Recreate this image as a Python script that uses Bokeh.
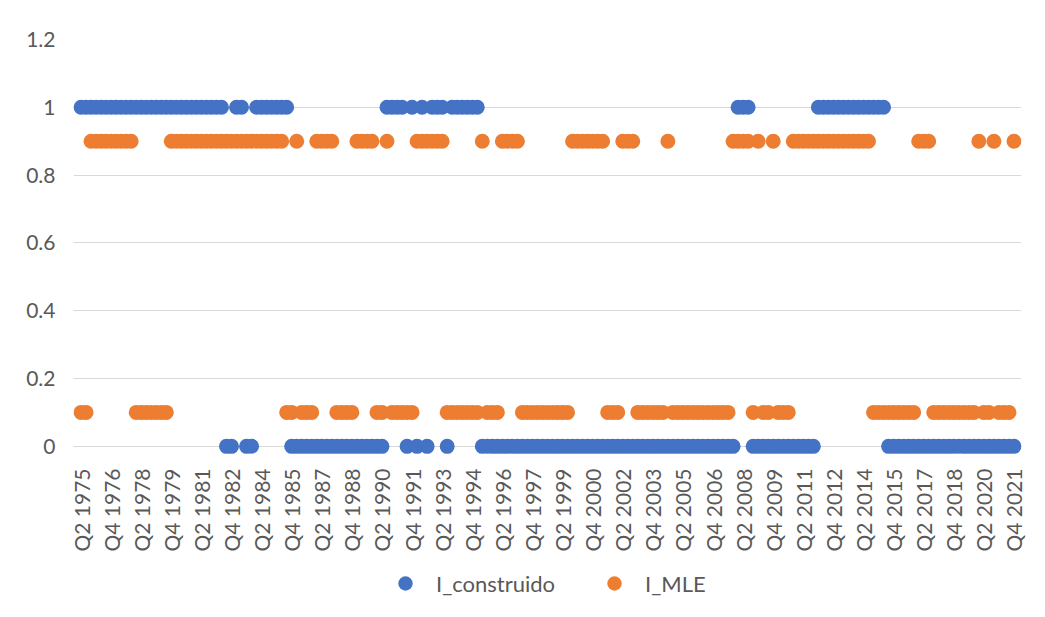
from math import pi
from bokeh.plotting import figure
from bokeh.layouts import column
from bokeh.models import (ColumnDataSource, Range1d, FixedTicker, NumeralTickFormatter,
                          Legend, LegendItem)
from bokeh.embed import file_html
from bokeh.resources import INLINE

# Tick labels (every 6th quarter, Q2 1975 ... Q4 2021)
tick_labels = ["Q2 1975", "Q4 1976", "Q2 1978", "Q4 1979", "Q2 1981", "Q4 1982",
               "Q2 1984", "Q4 1985", "Q2 1987", "Q4 1988", "Q2 1990", "Q4 1991",
               "Q2 1993", "Q4 1994", "Q2 1996", "Q4 1997", "Q2 1999", "Q4 2000",
               "Q2 2002", "Q4 2003", "Q2 2005", "Q4 2006", "Q2 2008", "Q4 2009",
               "Q2 2011", "Q4 2012", "Q2 2014", "Q4 2015", "Q2 2017", "Q4 2018",
               "Q2 2020", "Q4 2021"]

# I_construido, one value per quarter from Q2 1975 to Q4 2021
i_construido = [
    1, 1, 1,        # 1975 Q2-Q4
    1, 1, 1, 1,     # 1976
    1, 1, 1, 1,     # 1977
    1, 1, 1, 1,     # 1978
    1, 1, 1, 1,     # 1979
    1, 1, 1, 1,     # 1980
    1, 1, 1, 1,     # 1981
    1, 1, 0, 0,     # 1982
    1, 1, 0, 0,     # 1983
    1, 1, 1, 1,     # 1984
    1, 1, 1, 0,     # 1985
    0, 0, 0, 0,     # 1986
    0, 0, 0, 0,     # 1987
    0, 0, 0, 0,     # 1988
    0, 0, 0, 0,     # 1989
    0, 0, 1, 1,     # 1990
    1, 1, 0, 1,     # 1991
    0, 1, 0, 1,     # 1992
    1, 1, 0, 1,     # 1993
    1, 1, 1, 1,     # 1994
    1, 0, 0, 0,     # 1995
    0, 0, 0, 0,     # 1996
    0, 0, 0, 0,     # 1997
    0, 0, 0, 0,     # 1998
    0, 0, 0, 0,     # 1999
    0, 0, 0, 0,     # 2000
    0, 0, 0, 0,     # 2001
    0, 0, 0, 0,     # 2002
    0, 0, 0, 0,     # 2003
    0, 0, 0, 0,     # 2004
    0, 0, 0, 0,     # 2005
    0, 0, 0, 0,     # 2006
    0, 0, 0, 0,     # 2007
    1, 1, 1, 0,     # 2008
    0, 0, 0, 0,     # 2009
    0, 0, 0, 0,     # 2010
    0, 0, 0, 0,     # 2011
    1, 1, 1, 1,     # 2012
    1, 1, 1, 1,     # 2013
    1, 1, 1, 1,     # 2014
    1, 1, 0, 0,     # 2015
    0, 0, 0, 0,     # 2016
    0, 0, 0, 0,     # 2017
    0, 0, 0, 0,     # 2018
    0, 0, 0, 0,     # 2019
    0, 0, 0, 0,     # 2020
    0, 0, 0, 0,     # 2021
]

# I_MLE, one value per quarter from Q2 1975 to Q4 2021
i_mle = [
    0.1, 0.1, 0.9,          # 1975 Q2-Q4
    0.9, 0.9, 0.9, 0.9,     # 1976
    0.9, 0.9, 0.9, 0.9,     # 1977
    0.1, 0.1, 0.1, 0.1,     # 1978
    0.1, 0.1, 0.1, 0.9,     # 1979
    0.9, 0.9, 0.9, 0.9,     # 1980
    0.9, 0.9, 0.9, 0.9,     # 1981
    0.9, 0.9, 0.9, 0.9,     # 1982
    0.9, 0.9, 0.9, 0.9,     # 1983
    0.9, 0.9, 0.9, 0.9,     # 1984
    0.9, 0.9, 0.1, 0.1,     # 1985
    0.9, 0.1, 0.1, 0.1,     # 1986
    0.9, 0.9, 0.9, 0.9,     # 1987
    0.1, 0.1, 0.1, 0.1,     # 1988
    0.9, 0.9, 0.9, 0.9,     # 1989
    0.1, 0.1, 0.9, 0.1,     # 1990
    0.1, 0.1, 0.1, 0.1,     # 1991
    0.9, 0.9, 0.9, 0.9,     # 1992
    0.9, 0.9, 0.1, 0.1,     # 1993
    0.1, 0.1, 0.1, 0.1,     # 1994
    0.1, 0.9, 0.1, 0.1,     # 1995
    0.1, 0.9, 0.9, 0.9,     # 1996
    0.9, 0.1, 0.1, 0.1,     # 1997
    0.1, 0.1, 0.1, 0.1,     # 1998
    0.1, 0.1, 0.1, 0.9,     # 1999
    0.9, 0.9, 0.9, 0.9,     # 2000
    0.9, 0.9, 0.1, 0.1,     # 2001
    0.1, 0.9, 0.9, 0.9,     # 2002
    0.1, 0.1, 0.1, 0.1,     # 2003
    0.1, 0.1, 0.9, 0.1,     # 2004
    0.1, 0.1, 0.1, 0.1,     # 2005
    0.1, 0.1, 0.1, 0.1,     # 2006
    0.1, 0.1, 0.1, 0.9,     # 2007
    0.9, 0.9, 0.9, 0.1,     # 2008
    0.9, 0.1, 0.1, 0.9,     # 2009
    0.1, 0.1, 0.1, 0.9,     # 2010
    0.9, 0.9, 0.9, 0.9,     # 2011
    0.9, 0.9, 0.9, 0.9,     # 2012
    0.9, 0.9, 0.9, 0.9,     # 2013
    0.9, 0.9, 0.9, 0.1,     # 2014
    0.1, 0.1, 0.1, 0.1,     # 2015
    0.1, 0.1, 0.1, 0.1,     # 2016
    0.9, 0.9, 0.9, 0.1,     # 2017
    0.1, 0.1, 0.1, 0.1,     # 2018
    0.1, 0.1, 0.1, 0.1,     # 2019
    0.9, 0.1, 0.1, 0.9,     # 2020
    0.1, 0.1, 0.1, 0.9,     # 2021
]

series_names = ["I_construido", "I_MLE"]
series_cols = ["c", "m"]
series_colors = ["#4472C4", "#ED7D31"]
y_ticks = [0, 0.2, 0.4, 0.6, 0.8, 1.0, 1.2]

n = len(i_construido)
src = ColumnDataSource(dict(x=list(range(n)), c=i_construido, m=i_mle))

FONT = "Lato"
TXT = "#595959"
W = 1029

p = figure(width=W, height=558, output_backend="svg", toolbar_location=None,
           x_range=Range1d(-1.5, n + 0.5), y_range=Range1d(-0.03, 1.2),
           min_border_left=73, min_border_right=8, min_border_top=39,
           min_border_bottom=102)
p.outline_line_color = None

# axes
xa = p.xaxis[0]
xa.ticker = FixedTicker(ticks=list(range(0, n, 6)))
xa.major_label_overrides = {i * 6: lab for i, lab in enumerate(tick_labels)}
xa.major_label_orientation = pi / 2
xa.axis_line_color = None
xa.major_tick_line_color = None
xa.minor_tick_line_color = None
xa.major_label_standoff = 6
xa.major_label_text_font = FONT
xa.major_label_text_font_size = "21px"
xa.major_label_text_color = TXT

ya = p.yaxis[0]
ya.ticker = FixedTicker(ticks=y_ticks)
ya.formatter = NumeralTickFormatter(format="0.[0]")
ya.axis_line_color = None
ya.major_tick_line_color = None
ya.minor_tick_line_color = None
ya.major_label_standoff = 12
ya.major_label_text_font = FONT
ya.major_label_text_font_size = "21px"
ya.major_label_text_color = TXT

p.xgrid.visible = False
p.ygrid.ticker = FixedTicker(ticks=y_ticks)
p.ygrid.grid_line_color = "#d9d9d9"
p.ygrid.grid_line_width = 1

for col, color in zip(series_cols, series_colors):
    p.scatter("x", col, source=src, size=15, fill_color=color, line_color=None)

# legend strip below the chart (its renderers plot the same data, out of view)
lg = figure(width=W, height=50, output_backend="svg", toolbar_location=None,
            x_range=Range1d(0, 1), y_range=Range1d(10, 11),
            min_border_left=0, min_border_right=0, min_border_top=0,
            min_border_bottom=0)
lg.axis.visible = False
lg.grid.visible = False
lg.outline_line_color = None
items = []
for name, col, color in zip(series_names, series_cols, series_colors):
    r = lg.scatter("x", col, source=src, size=15, fill_color=color, line_color=None)
    items.append(LegendItem(label=name, renderers=[r]))

legend = Legend(items=items, orientation="horizontal", location=(314, 7),
                border_line_color=None, background_fill_alpha=0,
                label_text_font=FONT, label_text_font_size="22px",
                label_text_color=TXT, spacing=41, label_standoff=13,
                glyph_width=36, glyph_height=36, margin=0, padding=0)
lg.add_layout(legend, "center")

layout = column(p, lg, spacing=0)
open("out.html", "w").write(file_html(layout, INLINE))
